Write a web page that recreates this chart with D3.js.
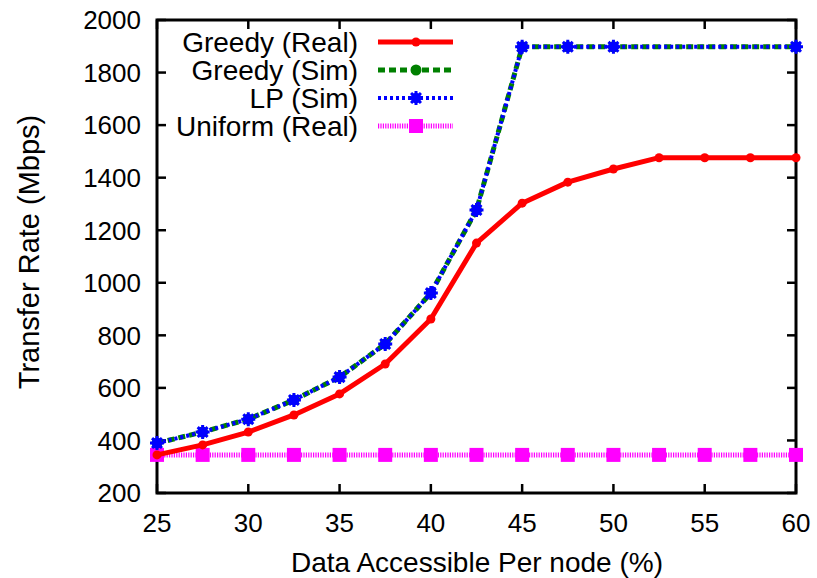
<!DOCTYPE html>
<html><head><meta charset="utf-8">
<script src="https://cdn.jsdelivr.net/npm/d3@7"></script>
<style>body{margin:0;background:#fff}svg{display:block}text{font-family:"Liberation Sans",Arial,sans-serif;fill:#000}</style>
</head><body>
<svg id="c" width="817" height="578"></svg>
<script>
const xAll = [25,27.5,30,32.5,35,37.5,40,42.5,45,47.5,50,52.5,55,57.5,60];
const greedyReal = [345,383,432,497,577,691,862,1151,1303,1383,1433,1476,1476,1476,1476];
const xSim = [25,27.5,30,32.5,35,37.5,40,42.5,45,47.5,50,60];
const greedySim = [390,432,481,554,641,767,961,1277,1898,1898,1898,1898];
const lpSim = [390,432,481,554,641,767,961,1277,1898,1898,1898,1898];
const uniformReal = [345,345,345,345,345,345,345,345,345,345,345,345,345,345,345];
const xTicks = [25,30,35,40,45,50,55,60];
const yTicks = [200,400,600,800,1000,1200,1400,1600,1800,2000];
const seriesNames = ["Greedy (Real)","Greedy (Sim)","LP (Sim)","Uniform (Real)"];

const svg = d3.select("#c");
const L=157,R=796,T=20,B=493;
const x = d3.scaleLinear().domain([25,60]).range([L,R]);
const y = d3.scaleLinear().domain([200,2000]).range([B,T]);

// ticks (inward, mirrored)
const tk = svg.append("g").attr("stroke","#000").attr("stroke-width",2.5);
xTicks.forEach(v=>{
  tk.append("line").attr("x1",x(v)).attr("x2",x(v)).attr("y1",B).attr("y2",B-9);
  tk.append("line").attr("x1",x(v)).attr("x2",x(v)).attr("y1",T).attr("y2",T+9);
});
yTicks.forEach(v=>{
  tk.append("line").attr("x1",L).attr("x2",L+9).attr("y1",y(v)).attr("y2",y(v));
  tk.append("line").attr("x1",R).attr("x2",R-9).attr("y1",y(v)).attr("y2",y(v));
});
svg.append("rect").attr("x",L).attr("y",T).attr("width",R-L).attr("height",B-T)
  .attr("fill","none").attr("stroke","#000").attr("stroke-width",3);

// tick labels
svg.append("g").selectAll("text").data(yTicks).join("text")
  .attr("x",141).attr("y",d=>y(d)).attr("dy","0.36em").attr("text-anchor","end")
  .attr("font-size",26).text(d=>d);
svg.append("g").selectAll("text").data(xTicks).join("text")
  .attr("x",d=>x(d)).attr("y",532).attr("text-anchor","middle")
  .attr("font-size",26).text(d=>d);

// titles
svg.append("text").attr("x",477).attr("y",572).attr("text-anchor","middle")
  .attr("font-size",28).text("Data Accessible Per node (%)");
svg.append("text").attr("transform","translate(39,252) rotate(-90)").attr("text-anchor","middle")
  .attr("font-size",29).text("Transfer Rate (Mbps)");

const line = d3.line().x(d=>x(d[0])).y(d=>y(d[1]));
const zip = (xs,ys)=>xs.map((v,i)=>[v,ys[i]]);

const starPath = r => { let p=""; for(let k=0;k<4;k++){const a=k*Math.PI/4; p+=`M${-r*Math.cos(a)},${-r*Math.sin(a)}L${r*Math.cos(a)},${r*Math.sin(a)}`;} return p; };

const styles = [
  {color:"#ff0000", w:5, dash:null, marker:"circle", r:4.5},
  {color:"#008000", w:5, dash:"7,4", marker:"gcircle", r:5.5},
  {color:"#0000ff", w:4, dash:"3,3", marker:"star", r:7},
  {color:"#ff00ff", w:5, dash:"1.2,1.2", marker:"square", r:7}
];
function drawMarker(g,cx,cy,s){
  if(s.marker==="circle"||s.marker==="gcircle"){
    g.append("circle").attr("cx",cx).attr("cy",cy).attr("r",s.r).attr("fill",s.color);
  } else if(s.marker==="star"){
    g.append("circle").attr("cx",cx).attr("cy",cy).attr("r",5.2).attr("fill",s.color);
    g.append("path").attr("transform",`translate(${cx},${cy})`).attr("d",starPath(s.r))
      .attr("stroke",s.color).attr("stroke-width",3).attr("fill","none");
  } else {
    g.append("rect").attr("x",cx-s.r).attr("y",cy-s.r).attr("width",2*s.r).attr("height",2*s.r).attr("fill",s.color);
  }
}
const data = [zip(xAll,greedyReal), zip(xSim,greedySim), zip(xSim,lpSim), zip(xAll,uniformReal)];
const order = [3,0,1,2];
order.forEach(i=>{
  const s=styles[i], g=svg.append("g");
  g.append("path").attr("d",line(data[i])).attr("fill","none").attr("stroke",s.color)
    .attr("stroke-width",s.w).attr("stroke-dasharray",s.dash).attr("stroke-linejoin","round");
  data[i].forEach(d=>drawMarker(g,x(d[0]),y(d[1]),s));
});

// legend
const legY=[42,70,98,126];
seriesNames.forEach((n,i)=>{
  const s=styles[i], g=svg.append("g");
  g.append("text").attr("x",358).attr("y",legY[i]).attr("dy","0.36em").attr("text-anchor","end")
    .attr("font-size",28).text(n);
  g.append("line").attr("x1",378).attr("x2",453).attr("y1",legY[i]).attr("y2",legY[i])
    .attr("stroke",s.color).attr("stroke-width",s.w).attr("stroke-dasharray",s.dash);
  drawMarker(g,416,legY[i],s);
});
</script></body></html>
